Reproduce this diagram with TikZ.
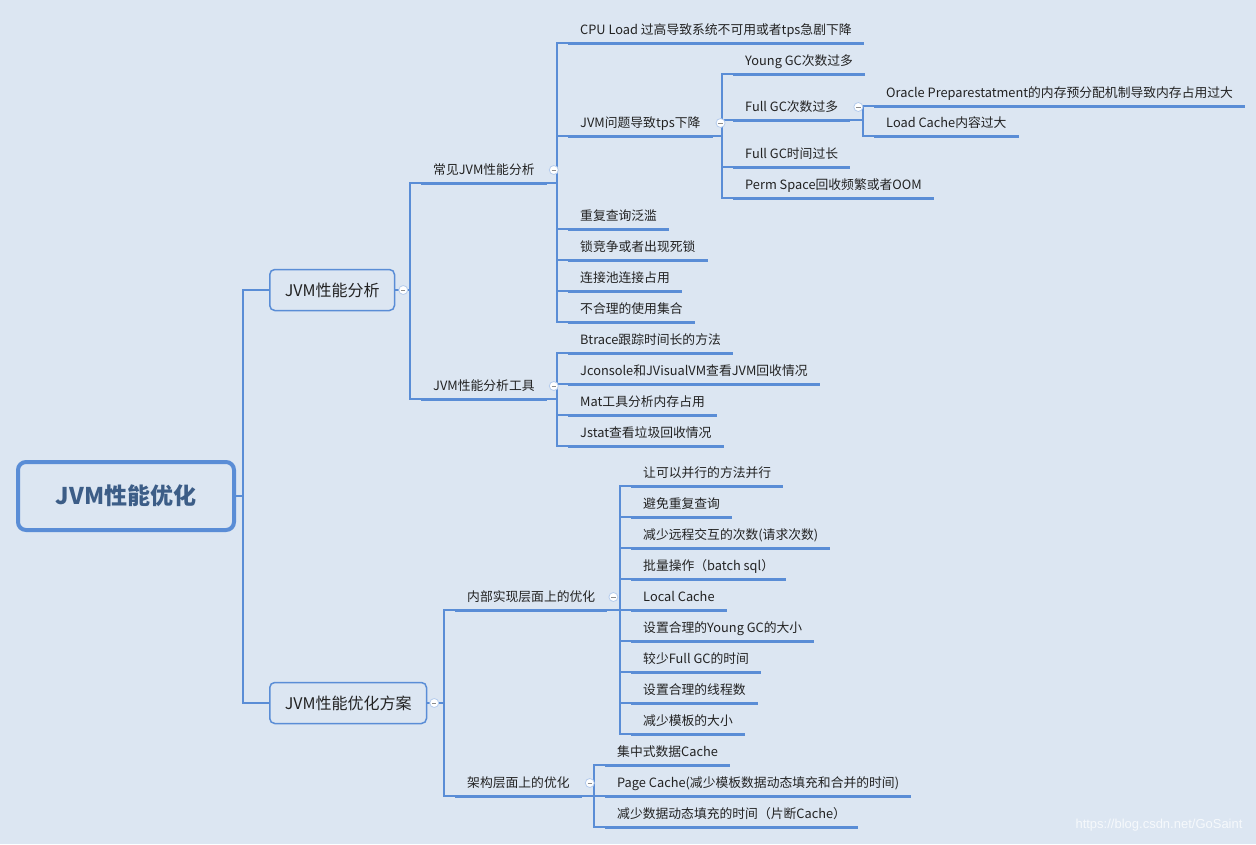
\documentclass[tikz,border=0pt]{standalone}
\usepackage{fontspec}
\setmainfont{Noto Sans CJK SC}
\newfontfamily\wmfont{Liberation Sans}
\usepackage{tikz}

\definecolor{bg}{HTML}{DCE6F2}
\definecolor{mline}{HTML}{5A8DD6}
\definecolor{rtext}{HTML}{3C5D87}
\definecolor{ttext}{HTML}{222222}

\tikzset{
  link/.style={draw=mline, line width=1.2pt},
  uline/.style={draw=mline, line width=3pt},
  rootbox/.style={draw=mline, line width=4pt, rounded corners=8pt,
    minimum width=216pt, minimum height=68pt, text=rtext,
    font=\fontsize{23}{26}\selectfont\bfseries},
  mainbox/.style={draw=mline, line width=1.5pt, rounded corners=5pt,
    anchor=west, inner xsep=15pt, minimum height=41pt, text=ttext,
    font=\fontsize{16}{19}\selectfont},
  topic/.style={anchor=south west, inner xsep=12pt, inner ysep=5pt,
    text height=11pt, text depth=3pt, text=ttext,
    font=\fontsize{12.8}{15}\selectfont,
    append after command={(\tikzlastnode.south west) edge[uline] (\tikzlastnode.south east)}},
  fold/.style={circle, draw=mline!45, fill=white, line width=0.8pt,
    minimum size=9pt, inner sep=0pt,
    path picture={\draw[black!45, line width=0.8pt]
      ([xshift=-2.2pt]path picture bounding box.center) -- ([xshift=2.2pt]path picture bounding box.center);}},
}
\newcommand{\Branch}[2]{\draw[link] (#1) -| ([xshift=-11pt]#2.south west) -- (#2.south west);}

\begin{document}
\begin{tikzpicture}[x=1pt,y=-1pt]
  \fill[bg] (0,0) rectangle (1256,844);
  % root and main branches
  \node[rootbox] (R) at (126,496) {JVM性能优化};
  \node[mainbox] (A) at (269,290) {JVM性能分析};
  \node[mainbox] (B) at (269,703) {JVM性能优化方案};
  % JVM性能分析
  \node[topic] (A1) at (421,183) {常见JVM性能分析};
  \node[topic] (A11) at (568,43) {CPU Load 过高导致系统不可用或者tps急剧下降};
  \node[topic] (A12) at (568,136) {JVM问题导致tps下降};
  \node[topic] (A121) at (733,74) {Young GC次数过多};
  \node[topic] (A122) at (733,120) {Full GC次数过多};
  \node[topic] (A1221) at (874,106) {Oracle Preparestatment的内存预分配机制导致内存占用过大};
  \node[topic] (A1222) at (874,136) {Load Cache内容过大};
  \node[topic] (A123) at (733,167) {Full GC时间过长};
  \node[topic] (A124) at (733,198) {Perm Space回收频繁或者OOM};
  \node[topic] (A13) at (568,229) {重复查询泛滥};
  \node[topic] (A14) at (568,260) {锁竞争或者出现死锁};
  \node[topic] (A15) at (568,291) {连接池连接占用};
  \node[topic] (A16) at (568,322) {不合理的使用集合};
  \node[topic] (A2) at (421,399) {JVM性能分析工具};
  \node[topic] (A21) at (568,353) {Btrace跟踪时间长的方法};
  \node[topic] (A22) at (568,384) {Jconsole和JVisualVM查看JVM回收情况};
  \node[topic] (A23) at (568,415) {Mat工具分析内存占用};
  \node[topic] (A24) at (568,446) {Jstat查看垃圾回收情况};
  % JVM性能优化方案
  \node[topic] (B1) at (455,610) {内部实现层面上的优化};
  \node[topic] (B11) at (631,486) {让可以并行的方法并行};
  \node[topic] (B12) at (631,517) {避免重复查询};
  \node[topic] (B13) at (631,548) {减少远程交互的次数(请求次数)};
  \node[topic] (B14) at (631,579) {批量操作（batch sql）};
  \node[topic] (B15) at (631,610) {Local Cache};
  \node[topic] (B16) at (631,641) {设置合理的Young GC的大小};
  \node[topic] (B17) at (631,672) {较少Full GC的时间};
  \node[topic] (B18) at (631,703) {设置合理的线程数};
  \node[topic] (B19) at (631,734) {减少模板的大小};
  \node[topic] (B2) at (455,796) {架构层面上的优化};
  \node[topic] (B21) at (605,765) {集中式数据Cache};
  \node[topic] (B22) at (605,796) {Page Cache(减少模板数据动态填充和合并的时间)};
  \node[topic] (B23) at (605,827) {减少数据动态填充的时间（片断Cache）};
  % connectors
  \draw[link] (R.east) -| ([xshift=-26pt]A.west) -- (A.west);
  \draw[link] (R.east) -| ([xshift=-26pt]B.west) -- (B.west);
  \Branch{A.east}{A1}
  \Branch{A.east}{A2}
  \Branch{A1.south east}{A11}
  \Branch{A1.south east}{A12}
  \Branch{A1.south east}{A13}
  \Branch{A1.south east}{A14}
  \Branch{A1.south east}{A15}
  \Branch{A1.south east}{A16}
  \Branch{A12.south east}{A121}
  \Branch{A12.south east}{A122}
  \Branch{A12.south east}{A123}
  \Branch{A12.south east}{A124}
  \Branch{A122.south east}{A1221}
  \Branch{A122.south east}{A1222}
  \Branch{A2.south east}{A21}
  \Branch{A2.south east}{A22}
  \Branch{A2.south east}{A23}
  \Branch{A2.south east}{A24}
  \Branch{B.east}{B1}
  \Branch{B.east}{B2}
  \foreach \n in {B11,B12,B13,B14,B15,B16,B17,B18,B19}
    {\Branch{B1.south east}{\n}}
  \foreach \n in {B21,B22,B23}
    {\Branch{B2.south east}{\n}}
  % fold markers
  \node[fold] at ([xshift=8pt]A.east) {};
  \node[fold] at ([xshift=7pt]B.east) {};
  \node[fold] at ([xshift=7pt,yshift=13pt]A1.south east) {};
  \node[fold] at ([xshift=7pt,yshift=13pt]A2.south east) {};
  \node[fold] at ([xshift=8pt,yshift=13pt]A12.south east) {};
  \node[fold] at ([xshift=8pt,yshift=13pt]A122.south east) {};
  \node[fold] at ([xshift=6pt,yshift=13pt]B1.south east) {};
  \node[fold] at ([xshift=8pt,yshift=13pt]B2.south east) {};
  % watermark
  \node[anchor=east, text=white!75!bg, font=\wmfont\fontsize{13}{15}\selectfont] (wm) at (1246,825) {https://blog.csdn.net/GoSaint};
\end{tikzpicture}
\end{document}
